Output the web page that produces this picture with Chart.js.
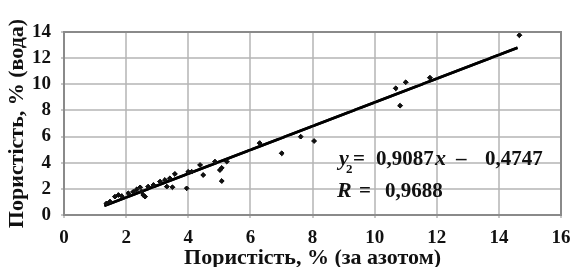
<!DOCTYPE html>
<html>
<head>
<meta charset="utf-8">
<script src="https://cdn.jsdelivr.net/npm/chart.js@4"></script>
<style>
  html, body { margin: 0; padding: 0; background: #fff; }
</style>
</head>
<body>
<canvas id="grafica" width="582" height="267"></canvas>
<script>
// Пористість: азот (x) проти води (y)
const porAzot = [1.37, 1.48, 1.64, 1.75, 1.86, 2.07, 2.23, 2.34, 2.45, 2.50, 2.55, 2.61, 2.71, 2.88,
  3.09, 3.25, 3.31, 3.41, 3.49, 3.57, 3.95, 4.00, 4.11, 4.38, 4.48, 4.86, 5.02, 5.08, 5.08, 5.24,
  6.30, 7.01, 7.62, 8.05, 10.68, 10.82, 11.00, 11.78, 14.66];
const porVoda = [0.89, 1.02, 1.40, 1.53, 1.45, 1.66, 1.78, 1.96, 2.12, 1.80, 1.53, 1.40, 2.17, 2.30,
  2.55, 2.68, 2.17, 2.81, 2.12, 3.14, 2.04, 3.31, 3.31, 3.83, 3.06, 4.08, 3.44, 3.60, 2.60, 4.08,
  5.50, 4.72, 5.99, 5.66, 9.69, 8.36, 10.15, 10.50, 13.75];

// Лінія тренду (кінцеві точки)
const trendX = [1.3, 14.6];
const trendY = [0.71, 12.79];

// Межі осей і крок поділок
const xRange = [0, 16];
const yRange = [0, 14];
const tickStep = 2;

const serif = 'Liberation Serif';

// Сітка і рамка (заливкою), потім дані поверх них, потім рівняння
const ramka = {
  id: 'ramka',
  afterDraw(chart) {
    const a = chart.chartArea;
    const sx = chart.scales.x;
    const sy = chart.scales.y;
    const ctx = chart.ctx;
    ctx.save();
    ctx.globalCompositeOperation = 'source-over';
    ctx.globalAlpha = 1;
    ctx.fillStyle = '#b5b5b5';
    sx.ticks.forEach(t => {
      const px = Math.round(sx.getPixelForValue(t.value));
      ctx.fillRect(px - 0.75, a.top, 1.5, a.bottom - a.top + 3);
    });
    sy.ticks.forEach(t => {
      const py = Math.round(sy.getPixelForValue(t.value));
      ctx.fillRect(a.left - 3, py - 0.75, a.right - a.left + 3, 1.5);
    });
    ctx.fillStyle = '#8a8a8a';
    ctx.fillRect(a.left - 1, a.top - 1, a.right - a.left + 2, 2);
    ctx.fillRect(a.left - 1, a.bottom - 1, a.right - a.left + 2, 2);
    ctx.fillRect(a.left - 1, a.top - 1, 2, a.bottom - a.top + 2);
    ctx.fillRect(a.right - 1, a.top - 1, 2, a.bottom - a.top + 2);
    ctx.restore();

    // дані поверх сітки
    const metas = chart.getSortedVisibleDatasetMetas();
    for (let i = metas.length - 1; i >= 0; i--) {
      ctx.save();
      metas[i].controller.draw();
      ctx.restore();
    }

    // рівняння тренду
    ctx.save();
    ctx.fillStyle = '#111';
    ctx.textBaseline = 'alphabetic';
    ctx.textAlign = 'left';
    const bi = 'italic bold 22px "' + serif + '"';
    const b = 'bold 21px "' + serif + '"';
    ctx.font = bi; ctx.fillText('y', 339, 165);
    ctx.font = b; ctx.fillText('=', 353, 165);
    ctx.fillText('0,9087', 376, 165);
    ctx.font = bi; ctx.fillText('x', 435, 165);
    ctx.font = b; ctx.fillText('–', 456, 165);
    ctx.fillText('0,4747', 485, 165);
    ctx.font = bi; ctx.fillText('R', 337, 197);
    ctx.font = 'bold 13px "' + serif + '"'; ctx.fillText('2', 346, 173);
    ctx.font = b; ctx.fillText('=', 359, 197);
    ctx.fillText('0,9688', 385, 197);
    ctx.restore();
  }
};

const ctx = document.getElementById('grafica').getContext('2d');
new Chart(ctx, {
  type: 'scatter',
  data: {
    datasets: [{
      label: 'Дані',
      data: porAzot.map((x, i) => ({ x: x, y: porVoda[i] })),
      backgroundColor: '#111',
      borderColor: '#111',
      pointStyle: 'rectRot',
      pointRadius: 2.3,
      order: 1
    }, {
      type: 'line',
      label: 'Тренд',
      data: trendX.map((x, i) => ({ x: x, y: trendY[i] })),
      borderColor: '#000',
      borderWidth: 2.6,
      pointRadius: 0,
      fill: false,
      order: 2
    }]
  },
  plugins: [ramka],
  options: {
    responsive: false,
    animation: false,
    devicePixelRatio: 1,
    layout: { padding: { left: 0, top: 32, right: 21, bottom: 0 } },
    plugins: { legend: { display: false }, tooltip: { enabled: false } },
    scales: {
      x: {
        type: 'linear', min: xRange[0], max: xRange[1],
        afterFit: s => { s.height = 52; },
        grid: { display: false },
        border: { display: false },
        ticks: { stepSize: tickStep, color: '#111', padding: 4, maxRotation: 0, autoSkip: false,
          font: { family: serif, weight: 'bold', size: 19 } },
        title: { display: true, text: 'Пористість, % (за азотом)', color: '#111',
          padding: { top: 0, bottom: -3 },
          font: { family: serif, weight: 'bold', size: 22, lineHeight: 1.05 } }
      },
      y: {
        type: 'linear', min: yRange[0], max: yRange[1],
        afterFit: s => { s.width = 64; },
        grid: { display: false },
        border: { display: false },
        ticks: { stepSize: tickStep, color: '#111', padding: 5, autoSkip: false,
          font: { family: serif, weight: 'bold', size: 19 } },
        title: { display: true, text: 'Пористість, % (вода)', color: '#111',
          padding: { top: 4, bottom: 0 }, font: { family: serif, weight: 'bold', size: 22 } }
      }
    }
  }
});
</script>
</body>
</html>
